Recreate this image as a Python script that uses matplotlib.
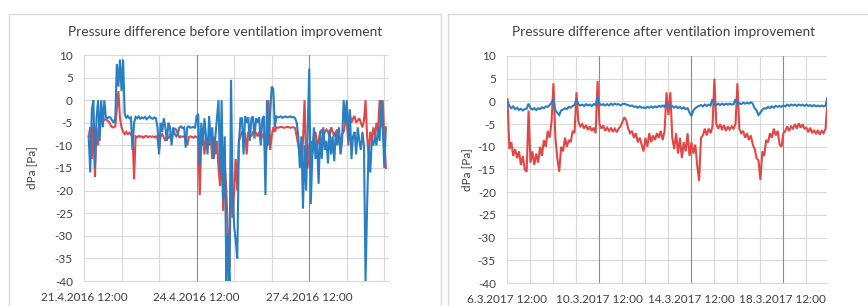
import matplotlib
matplotlib.use("Agg")
import matplotlib.pyplot as plt
from matplotlib.patches import Rectangle
import pandas as pd

plt.rcParams['font.family'] = ['Lato', 'DejaVu Sans']

# ---------------- data: before (hourly from 21.4.2016 15:00) ----------------
before_start = "2016-04-21 15:00"
before_freq = "1h"
before_blue = [
    -8, -16, -2, 0, -15, -4, 0, -9, 0, -6,
    0, -3.8, -4, -3.7, -3.9, -4.5, -5, -4, 8, 3,
    9, 2, 9, -3, -4, -3.5, -4, -3.8, -11, -5,
    -3.7, -4, -3.6, -4.1, -3.8, -4, -3.7, -4.2, -3.9, -3.6,
    -4, -4.1, -3.8, -4, -6, -12, -5, -7, -4, -6,
    -9, -5, -6, -10, -6, -7.5, -8, -7.5, -6, -5.8,
    -6.2, -6, -10.5, -6, -5.8, -6.1, -6, -5.9, -6.2, -3.5,
    -3, -14.5, -5, -10, -4, -8, -12, -3.5, -9, -6,
    -13, -8, -4, 0, -16, 0, -22, -8, -40, -30,
    -40, 4.5, -20, -28, -31, -35, -10, -4, -4, -12,
    -3.5, -5, -3.8, -9, -4, -3.6, -8.5, -4, -5, -3.8,
    -10, -4.2, -3.5, -21, 0, -10, -3, 3, 2.5, -6,
    -3.6, -3.8, -3.7, -3.6, -3.9, -3.7, -3.6, -3.8, -3.7, -3.6,
    -3.8, -3.7, -4, -5, -8, -15, -8, -24, -10, -20,
    -7, 7, -23, -12, -6, -13, -9, -18.5, -7, -13,
    -6, -11, -9, -14, -6.5, -12, -8, -13.5, -7, -10,
    -6, -12, -9, 0, -5, 0, -9, -2, -13, -8,
    -7, -12, -6, -9, -11, -7, -10, -40, -23.5, -10,
    -16, -9, -10, -8, -10, -6, -9, 0, -6, -15, -6,
]
before_red = [
    -8, -6, -13, -5, -17, -6, -10, -5, -4.5, -5,
    -4.2, -4.3, -4.5, -4.8, -5.5, -6, -6, -5.8, -2, 2,
    -4, -6, -7, -7.5, -7, -7.5, -7.2, -7.6, -7, -17.5,
    -8, -8.2, -7.9, -8.1, -8, -8.3, -8, -7.9, -8.2, -8,
    -8.1, -8, -8.2, -8, -8.5, -11, -8, -7.5, -8.2, -9,
    -8, -8.5, -7.5, -9, -6.5, -6.3, -6.5, -7.5, -8.2, -8,
    -8.1, -8, -8.3, -10, -8.2, -8, -8.1, -8.3, -8, -8.2,
    -8, -21, -9, -8, -12, -8, -9, -10, -8, -13,
    -8, -12, -9, -15, -19, -10, -24.5, -14, -20, -30,
    -37, -14, -26, -20, -13, -20, -9, -8, -7, -8,
    -7.2, -12, -7, -7.5, -8, -7, -6.8, -7.3, -8, -7,
    -9, -7.5, -8, -12, -10, 0, -11, -8, -6, -7,
    -6, -6.1, -6, -5.9, -6, -6.1, -6, -5.9, -6, -6.1,
    -6, -6, -6.2, -8, -10, -12, -14, -9, 0, -13,
    -15, -10, -9, -12, -8, -7, -10, -9, -7, -6.5,
    -8, -7, -6.5, -7, -8, -6, -7, -8, -7, -6.5,
    -8, -9, -7.5, -7, -5, -4, -10, -3, -5, -4,
    -3.5, -5, -4.5, -4, -5, -6, -4.5, 0, -8, -12,
    -7, -9, -6, -8, -5, -7, 0, -6, 0, -8, -15,
]

# ---------------- data: after (2-hourly from 6.3.2017 12:30) ----------------
after_start = "2017-03-06 12:30"
after_freq = "2h"
after_red = [
    0.5, -10.5, -9, -12, -10.5, -12.5, -11, -14, -12, -15, -15.5, -2,
    -13.5, -11, -14, -11.5, -13.5, -10, -12, -8.5, -10, -6.5, -8, -4.5,
    4, -8, -12.5, -15.5, -10, -11, -8, -10, -8.5, -9, -6.5, -7,
    2, -4.5, -5.5, -5, -6, -5.2, -6.3, -5.5, -6.5, -5.8, -7, 4.5,
    -5, -6, -5.3, -6.5, -5.8, -6.5, -5.8, -6.7, -6, -6.8, -6, -5.5,
    -4.5, -3.5, -4.2, -6, -7, -6.5, -8, -7, -9, -8, -9.5, -11,
    -8, -10, -7, -9, -7.5, -8.5, -7, -8, -6.5, -8.5, -6.5, 2,
    -3, 2, -8, -10.5, -7, -11.5, -8, -12.5, -9, -11, -7, -12,
    -9, -11.5, -9.5, -14, -17.5, -8, -7.5, -6, -7.5, -6, -7, -5.5,
    5, -5, -6, -5, -6.3, -5.2, -6.5, -5.5, -6.2, -5.5, -6, -5,
    4, -6, -7, -6.5, -8, -7, -8.5, -7.5, -9.5, -10.5, -12.5, -13,
    -17.3, -11, -12, -8.5, -9, -7, -8, -6, -7.5, -6.5, -9.5, -10,
    -7, -6.5, -5.5, -6.5, -5.5, -6, -5, -6, -4.8, -5.8, -5, -6,
    -5.8, -6.8, -5.8, -7, -6.3, -7.2, -6.3, -7.3, -6.5, -7, -6, 0.5,
]
after_blue = [
    0, -1, -1.5, -1.1, -1.7, -1.4, -1.9, -1.6, -2, -1.7, -1.6, -0.5,
    -1.5, -1.8, -1.5, -1.9, -1.5, -1.7, -1.3, -1.5, -1.1, -1.2, -0.8, -0.3,
    0.5, -2, -2.5, -3, -2, -1.8, -1.5, -1.7, -1.2, -1.4, -1, -0.8,
    0.5, -0.6, -0.9, -0.7, -1, -0.6, -0.9, -0.7, -1, -0.6, -0.8, 1,
    -0.5, -0.8, -0.6, -0.9, -0.6, -0.9, -0.5, -0.8, -0.5, -0.7, -0.6, -0.9,
    -0.6, -0.5, -0.7, -0.8, -1, -0.9, -1.2, -1.1, -1.4, -1.1, -1.4, -1.3,
    -1.5, -1.2, -1.4, -1.1, -1.4, -1.1, -1.3, -1, -1.2, -0.9, -1.2, -0.3,
    -1, -1.3, -1, -1.4, -1.1, -1.5, -1.2, -1.6, -1.3, -1.7, -1.5, -2.5,
    -3.2, -2, -1.5, -1.2, -1, -0.8, -1.1, -0.7, -1, -0.7, -0.9, 0.5,
    -0.6, -0.8, -0.5, -0.8, -0.5, -0.8, -0.5, -0.7, -0.5, -0.7, -0.6, 0.5,
    -0.6, -0.4, -0.6, -0.3, -0.5, -0.3, -0.5, -0.2, -0.5, -1.5, -2, -3,
    -2.5, -1.8, -1.5, -1.6, -1.2, -1.5, -1.1, -1.4, -1, -1.2, -1, -1.2,
    -0.9, -1.1, -0.7, -1, -0.7, -0.9, -0.7, -1, -0.7, -0.9, -0.7, -1,
    -0.7, -1, -0.8, -1.1, -0.8, -1.1, -0.9, -1.1, -0.9, -1.1, -0.9, 0.8,
]

titles = ["Pressure difference before ventilation improvement",
          "Pressure difference after ventilation improvement"]
ylabel = "dPa [Pa]"
y_ticks = [10, 5, 0, -5, -10, -15, -20, -25, -30, -35, -40]

before_xmin, before_xmax = "2016-04-21 12:00", "2016-04-29 15:00"
before_labels = ["2016-04-21 12:00", "2016-04-24 12:00", "2016-04-27 12:00"]
before_minor_start, before_minor_n = "2016-04-21 12:00", 9
after_xmin, after_xmax = "2017-03-06 12:00", "2017-03-20 10:00"
after_labels = ["2017-03-06 12:00", "2017-03-10 12:00", "2017-03-14 12:00", "2017-03-18 12:00"]
after_minor_start, after_minor_n = "2017-03-06 12:00", 14

BLUE = "#2a7fc2"
RED = "#e04848"
GRID = "#d9d9d9"
DARK = "#8e8a84"

W, H = 868, 306
fig = plt.figure(figsize=(W / 100, H / 100), dpi=100)

# chart borders
for (x0, x1) in [(9, 441), (448, 890)]:
    fig.patches.append(Rectangle((x0 / W, -0.1), (x1 - x0) / W, (H - 14) / H + 0.1,
                                 transform=fig.transFigure, facecolor="white",
                                 edgecolor="#d9d9d9", linewidth=1.0, zorder=-10))

def px_axes(x0, y0, x1, y1):
    ax = fig.add_axes([x0 / W, 1 - y1 / H, (x1 - x0) / W, (y1 - y0) / H])
    ax.set_facecolor("none")
    ax.set_zorder(5)
    return ax

ax1 = px_axes(84, 55, 389, 281)
ax2 = px_axes(507, 56, 827, 283)

def setup(ax, start, freq, blue, red, xmin, xmax, labels, mstart, mn, title, title_x, lpad):
    tb = pd.date_range(start, periods=len(blue), freq=freq)
    tr = pd.date_range(start, periods=len(red), freq=freq)
    ax.plot(tr, red, color=RED, lw=1.5, zorder=3, solid_joinstyle="miter")
    ax.plot(tb, blue, color=BLUE, lw=1.5, zorder=4, solid_joinstyle="miter")
    ax.set_xlim(pd.Timestamp(xmin), pd.Timestamp(xmax))
    ax.set_ylim(-40, 10)
    ax.set_yticks(y_ticks)
    ax.set_yticklabels([str(v) for v in y_ticks])
    for v in y_ticks:
        ax.axhline(v, color=GRID, lw=0.8, zorder=1)
    minor = pd.date_range(mstart, periods=mn, freq="1D")
    labs = [pd.Timestamp(l) for l in labels]
    for m in minor:
        if m in labs and m != labs[0]:
            ax.axvline(m, color=DARK, lw=0.8, zorder=2)
        else:
            ax.axvline(m, color=GRID, lw=0.8, zorder=1)
    ax.set_xticks(labs)
    ax.set_xticklabels([l.strftime("%-d.%-m.%Y %H:%M") for l in labs])
    ax.tick_params(axis="both", length=0, labelsize=8.5, colors="#404040")
    ax.tick_params(axis="y", pad=8)
    ax.tick_params(axis="x", pad=8)
    for s in ["top", "right", "left"]:
        ax.spines[s].set_visible(False)
    ax.spines["bottom"].set_color(GRID)
    ax.spines["bottom"].set_linewidth(0.8)
    ax.set_ylabel(ylabel, fontsize=8.5, color="#404040", labelpad=lpad)
    fig.text(title_x / W, 1 - 32 / H, title, ha="center", va="center",
             fontsize=9.9, color="#404040")

setup(ax1, before_start, before_freq, before_blue, before_red, before_xmin, before_xmax,
      before_labels, before_minor_start, before_minor_n, titles[0], 225, 13)
setup(ax2, after_start, after_freq, after_blue, after_red, after_xmin, after_xmax,
      after_labels, after_minor_start, after_minor_n, titles[1], 664, 4)

fig.savefig("out.png", dpi=100)
